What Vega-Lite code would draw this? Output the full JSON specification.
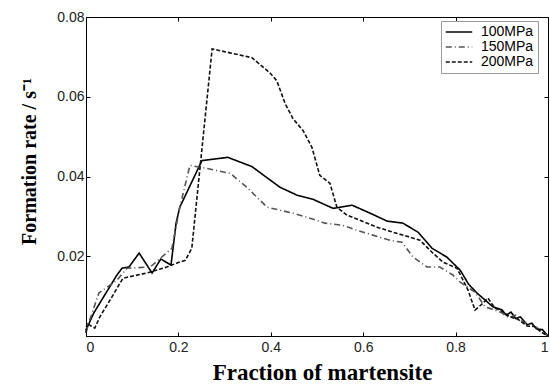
{
  "$schema": "https://vega.github.io/schema/vega-lite/v6.json",
  "width": 462,
  "height": 319,
  "autosize": "none",
  "padding": {"left": 86, "top": 17, "right": 2, "bottom": 48},
  "background": "white",
  "config": {
    "view": {"stroke": "black", "strokeWidth": 1},
    "axis": {
      "grid": false,
      "domainColor": "black",
      "tickColor": "black",
      "tickSize": -4,
      "labelFont": "Liberation Sans",
      "labelFontSize": 14,
      "labelColor": "#222",
      "titleFont": "Liberation Serif",
      "titleFontWeight": "bold",
      "titleColor": "black"
    },
    "legend": {
      "orient": "none",
      "legendX": 355,
      "legendY": 4,
      "title": null,
      "fillColor": "white",
      "strokeColor": "#999",
      "padding": 4,
      "symbolType": "stroke",
      "symbolSize": 700,
      "symbolStrokeWidth": 1.5,
      "clipHeight": 14,
      "labelFont": "Liberation Sans",
      "labelFontSize": 14,
      "labelColor": "black",
      "labelOffset": 8,
      "rowPadding": 1
    }
  },
  "data": {
    "values": [
      {"x": 0, "y": 0.0015, "s": "100MPa"},
      {"x": 0.017, "y": 0.0058, "s": "100MPa"},
      {"x": 0.067, "y": 0.0153, "s": "100MPa"},
      {"x": 0.078, "y": 0.017, "s": "100MPa"},
      {"x": 0.093, "y": 0.0173, "s": "100MPa"},
      {"x": 0.115, "y": 0.0208, "s": "100MPa"},
      {"x": 0.143, "y": 0.0158, "s": "100MPa"},
      {"x": 0.162, "y": 0.0193, "s": "100MPa"},
      {"x": 0.184, "y": 0.0178, "s": "100MPa"},
      {"x": 0.195, "y": 0.0283, "s": "100MPa"},
      {"x": 0.203, "y": 0.0323, "s": "100MPa"},
      {"x": 0.251, "y": 0.044, "s": "100MPa"},
      {"x": 0.307, "y": 0.0448, "s": "100MPa"},
      {"x": 0.359, "y": 0.0425, "s": "100MPa"},
      {"x": 0.394, "y": 0.0395, "s": "100MPa"},
      {"x": 0.42, "y": 0.0373, "s": "100MPa"},
      {"x": 0.457, "y": 0.0353, "s": "100MPa"},
      {"x": 0.491, "y": 0.0343, "s": "100MPa"},
      {"x": 0.535, "y": 0.032, "s": "100MPa"},
      {"x": 0.55, "y": 0.0323, "s": "100MPa"},
      {"x": 0.576, "y": 0.0328, "s": "100MPa"},
      {"x": 0.615, "y": 0.0308, "s": "100MPa"},
      {"x": 0.652, "y": 0.0288, "s": "100MPa"},
      {"x": 0.686, "y": 0.0283, "s": "100MPa"},
      {"x": 0.719, "y": 0.026, "s": "100MPa"},
      {"x": 0.749, "y": 0.022, "s": "100MPa"},
      {"x": 0.781, "y": 0.0198, "s": "100MPa"},
      {"x": 0.81, "y": 0.0165, "s": "100MPa"},
      {"x": 0.828, "y": 0.013, "s": "100MPa"},
      {"x": 0.846, "y": 0.0108, "s": "100MPa"},
      {"x": 0.881, "y": 0.0073, "s": "100MPa"},
      {"x": 0.9, "y": 0.0066, "s": "100MPa"},
      {"x": 0.91, "y": 0.0052, "s": "100MPa"},
      {"x": 0.92, "y": 0.006, "s": "100MPa"},
      {"x": 0.93, "y": 0.0044, "s": "100MPa"},
      {"x": 0.94, "y": 0.0048, "s": "100MPa"},
      {"x": 0.955, "y": 0.0028, "s": "100MPa"},
      {"x": 0.965, "y": 0.0032, "s": "100MPa"},
      {"x": 0.975, "y": 0.0018, "s": "100MPa"},
      {"x": 0.988, "y": 0.0016, "s": "100MPa"},
      {"x": 1.0, "y": 0.0, "s": "100MPa"},

      {"x": 0, "y": 0.0008, "s": "150MPa"},
      {"x": 0.006, "y": 0.0033, "s": "150MPa"},
      {"x": 0.028, "y": 0.0108, "s": "150MPa"},
      {"x": 0.067, "y": 0.014, "s": "150MPa"},
      {"x": 0.089, "y": 0.017, "s": "150MPa"},
      {"x": 0.139, "y": 0.0173, "s": "150MPa"},
      {"x": 0.186, "y": 0.022, "s": "150MPa"},
      {"x": 0.203, "y": 0.0323, "s": "150MPa"},
      {"x": 0.225, "y": 0.0428, "s": "150MPa"},
      {"x": 0.262, "y": 0.042, "s": "150MPa"},
      {"x": 0.312, "y": 0.0408, "s": "150MPa"},
      {"x": 0.348, "y": 0.0373, "s": "150MPa"},
      {"x": 0.392, "y": 0.0323, "s": "150MPa"},
      {"x": 0.448, "y": 0.0308, "s": "150MPa"},
      {"x": 0.478, "y": 0.0298, "s": "150MPa"},
      {"x": 0.517, "y": 0.0283, "s": "150MPa"},
      {"x": 0.554, "y": 0.0278, "s": "150MPa"},
      {"x": 0.587, "y": 0.0265, "s": "150MPa"},
      {"x": 0.621, "y": 0.0253, "s": "150MPa"},
      {"x": 0.658, "y": 0.024, "s": "150MPa"},
      {"x": 0.684, "y": 0.0235, "s": "150MPa"},
      {"x": 0.708, "y": 0.0198, "s": "150MPa"},
      {"x": 0.738, "y": 0.0173, "s": "150MPa"},
      {"x": 0.766, "y": 0.0173, "s": "150MPa"},
      {"x": 0.794, "y": 0.0153, "s": "150MPa"},
      {"x": 0.81, "y": 0.0135, "s": "150MPa"},
      {"x": 0.842, "y": 0.011, "s": "150MPa"},
      {"x": 0.864, "y": 0.0073, "s": "150MPa"},
      {"x": 0.885, "y": 0.0065, "s": "150MPa"},
      {"x": 0.9, "y": 0.0058, "s": "150MPa"},
      {"x": 0.915, "y": 0.0046, "s": "150MPa"},
      {"x": 0.93, "y": 0.0052, "s": "150MPa"},
      {"x": 0.945, "y": 0.0035, "s": "150MPa"},
      {"x": 0.96, "y": 0.0028, "s": "150MPa"},
      {"x": 0.975, "y": 0.0022, "s": "150MPa"},
      {"x": 0.99, "y": 0.0008, "s": "150MPa"},
      {"x": 1.0, "y": 0.0, "s": "150MPa"},

      {"x": 0, "y": 0.0008, "s": "200MPa"},
      {"x": 0.002, "y": 0.0033, "s": "200MPa"},
      {"x": 0.011, "y": 0.0025, "s": "200MPa"},
      {"x": 0.019, "y": 0.002, "s": "200MPa"},
      {"x": 0.03, "y": 0.0048, "s": "200MPa"},
      {"x": 0.052, "y": 0.009, "s": "200MPa"},
      {"x": 0.08, "y": 0.0145, "s": "200MPa"},
      {"x": 0.132, "y": 0.0158, "s": "200MPa"},
      {"x": 0.175, "y": 0.0173, "s": "200MPa"},
      {"x": 0.197, "y": 0.0183, "s": "200MPa"},
      {"x": 0.215, "y": 0.019, "s": "200MPa"},
      {"x": 0.229, "y": 0.022, "s": "200MPa"},
      {"x": 0.273, "y": 0.072, "s": "200MPa"},
      {"x": 0.312, "y": 0.071, "s": "200MPa"},
      {"x": 0.359, "y": 0.0698, "s": "200MPa"},
      {"x": 0.398, "y": 0.066, "s": "200MPa"},
      {"x": 0.413, "y": 0.064, "s": "200MPa"},
      {"x": 0.431, "y": 0.0583, "s": "200MPa"},
      {"x": 0.448, "y": 0.0545, "s": "200MPa"},
      {"x": 0.47, "y": 0.0515, "s": "200MPa"},
      {"x": 0.489, "y": 0.0473, "s": "200MPa"},
      {"x": 0.506, "y": 0.0403, "s": "200MPa"},
      {"x": 0.528, "y": 0.0383, "s": "200MPa"},
      {"x": 0.543, "y": 0.0323, "s": "200MPa"},
      {"x": 0.565, "y": 0.0303, "s": "200MPa"},
      {"x": 0.593, "y": 0.029, "s": "200MPa"},
      {"x": 0.63, "y": 0.0273, "s": "200MPa"},
      {"x": 0.665, "y": 0.026, "s": "200MPa"},
      {"x": 0.701, "y": 0.0248, "s": "200MPa"},
      {"x": 0.723, "y": 0.024, "s": "200MPa"},
      {"x": 0.749, "y": 0.021, "s": "200MPa"},
      {"x": 0.773, "y": 0.0185, "s": "200MPa"},
      {"x": 0.803, "y": 0.017, "s": "200MPa"},
      {"x": 0.827, "y": 0.0115, "s": "200MPa"},
      {"x": 0.842, "y": 0.0065, "s": "200MPa"},
      {"x": 0.857, "y": 0.008, "s": "200MPa"},
      {"x": 0.87, "y": 0.0095, "s": "200MPa"},
      {"x": 0.885, "y": 0.007, "s": "200MPa"},
      {"x": 0.9, "y": 0.0062, "s": "200MPa"},
      {"x": 0.918, "y": 0.0048, "s": "200MPa"},
      {"x": 0.935, "y": 0.0042, "s": "200MPa"},
      {"x": 0.955, "y": 0.0025, "s": "200MPa"},
      {"x": 0.97, "y": 0.0024, "s": "200MPa"},
      {"x": 0.985, "y": 0.001, "s": "200MPa"},
      {"x": 1.0, "y": 0.0, "s": "200MPa"}
    ]
  },
  "layer": [
    {
      "mark": {"type": "line", "strokeWidth": 1.6},
      "encoding": {
        "x": {
          "field": "x", "type": "quantitative",
          "scale": {"domain": [0, 1], "nice": false},
          "axis": {
            "orient": "bottom",
            "values": [0, 0.2, 0.4, 0.6, 0.8, 1],
            "labelExpr": "datum.value == 0 ? '0' : datum.value == 1 ? '1' : format(datum.value, '.1f')",
            "labelPadding": 8,
            "title": "Fraction of martensite",
            "titleFontSize": 23,
            "titleBaseline": "alphabetic",
            "titleY": 43,
            "titleX": 236
          }
        },
        "y": {
          "field": "y", "type": "quantitative",
          "scale": {"domain": [0, 0.08], "nice": false},
          "axis": {
            "orient": "left",
            "values": [0.02, 0.04, 0.06, 0.08],
            "format": ".2f",
            "labelPadding": 6,
            "title": "Formation rate / s⁻¹",
            "titleFontSize": 20,
            "titleBaseline": "alphabetic",
            "titleY": 144,
            "titleX": -51
          }
        },
        "strokeDash": {
          "field": "s", "type": "nominal",
          "scale": {"domain": ["100MPa", "150MPa", "200MPa"], "range": [[1, 0], [6, 3, 1, 3], [4, 2]]},
          "legend": {"title": null}
        },
        "color": {
          "field": "s", "type": "nominal",
          "scale": {"domain": ["100MPa", "150MPa", "200MPa"], "range": ["#000000", "#555555", "#111111"]},
          "legend": {"title": null}
        },
        "order": {"field": "x", "type": "quantitative"}
      }
    },
    {
      "mark": {"type": "line", "opacity": 0},
      "encoding": {
        "x": {
          "field": "x", "type": "quantitative",
          "axis": {"orient": "top", "values": [0.2, 0.4, 0.6, 0.8], "labels": false, "title": null}
        },
        "y": {
          "field": "y", "type": "quantitative",
          "axis": {"orient": "right", "values": [0.02, 0.04, 0.06], "labels": false, "title": null}
        },
        "detail": {"field": "s"},
        "order": {"field": "x", "type": "quantitative"}
      }
    }
  ],
  "resolve": {"axis": {"x": "independent", "y": "independent"}}
}
